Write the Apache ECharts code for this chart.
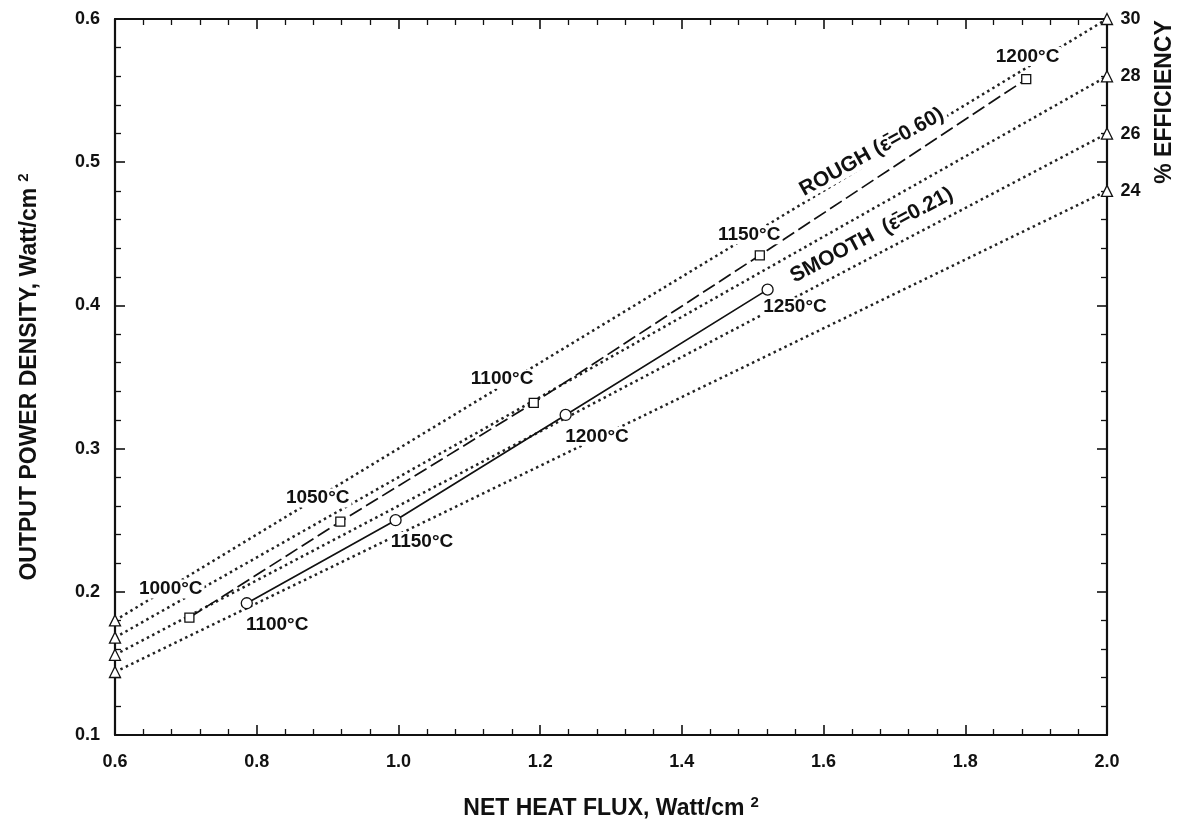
<!DOCTYPE html>
<html>
<head>
<meta charset="utf-8">
<script src="https://cdn.jsdelivr.net/npm/echarts@6/dist/echarts.min.js"></script>
<style>
html,body{margin:0;padding:0;background:#fff;}
#chart{width:1180px;height:826px;}
</style>
</head>
<body>
<div id="chart"></div>
<script>
// ---- data ----
const roughTemps = ['1000°C', '1050°C', '1100°C', '1150°C', '1200°C'];
const roughFlux  = [0.705, 0.918, 1.191, 1.510, 1.886];
const roughPower = [0.182, 0.249, 0.332, 0.435, 0.558];

const smoothTemps = ['1100°C', '1150°C', '1200°C', '1250°C'];
const smoothFlux  = [0.786, 0.996, 1.236, 1.521];
const smoothPower = [0.192, 0.250, 0.3235, 0.411];

const effPercent = ['30', '28', '26', '24'];
const effFluxEnds = [0.6, 2.0];
const effAtLeft  = [0.180, 0.168, 0.156, 0.144];
const effAtRight = [0.600, 0.560, 0.520, 0.480];

const curveNames = ['ROUGH (ε̄=0.60)', 'SMOOTH  (ε̄=0.21)'];
const curveNameFlux  = [1.668, 1.668];
const curveNamePower = [0.507, 0.449];

// ---- label placement (styles, in pixels: label centre minus marker centre) ----
const roughLabelOffsets  = [[-18, -28], [-22, -23], [-31, -23], [-10, -20], [2, -22]];
const smoothLabelOffsets = [[31, 22], [27, 22], [32, 22], [28, 18]];
const curveNameRotate = [29, 28];

const FONT = '"Liberation Sans", Arial, Helvetica, sans-serif';
const INK = '#111';
const MARK = 9;

const tempLabel = (off, size) => ({
  show: true, position: [size / 2 + off[0], size / 2 + off[1]],
  align: 'center', verticalAlign: 'middle',
  fontFamily: FONT, fontSize: 19, fontWeight: 'bold', color: INK,
  backgroundColor: '#fff', padding: [0, 2]
});

const series = [];

// efficiency lines (dotted)
effPercent.forEach((p, i) => {
  series.push({
    type: 'line', name: 'eff' + p, z: 2, clip: false,
    data: [[effFluxEnds[0], effAtLeft[i]], [effFluxEnds[1], effAtRight[i]]],
    symbol: 'triangle', symbolSize: 11,
    itemStyle: { color: '#fff', borderColor: INK, borderWidth: 1.3 },
    lineStyle: { color: '#222', width: 2.5, type: [2.5, 3.5] },
    label: { show: false },
    emphasis: { disabled: true },
    silent: true, animation: false
  });
});

// right side % efficiency labels
series.push({
  type: 'scatter', z: 6, clip: false, symbolSize: 1,
  itemStyle: { color: '#fff', opacity: 1 },
  data: effPercent.map((p, i) => ({ value: [effFluxEnds[1], effAtRight[i]], name: p })),
  label: {
    show: true, position: 'right', distance: 13, formatter: '{b}', opacity: 1,
    fontFamily: FONT, fontSize: 18, fontWeight: 'bold', color: INK
  },
  emphasis: { disabled: true },
  silent: true, animation: false
});

// rough curve
series.push({
  type: 'line', name: 'rough', z: 4,
  data: roughFlux.map((x, i) => ({
    value: [x, roughPower[i]], name: roughTemps[i],
    label: tempLabel(roughLabelOffsets[i], MARK)
  })),
  symbol: 'rect', symbolSize: MARK, showAllSymbol: true,
  itemStyle: { color: '#fff', borderColor: INK, borderWidth: 1.3 },
  lineStyle: { color: INK, width: 1.7, type: [14, 5] },
  label: { show: true, formatter: '{b}' },
  emphasis: { disabled: true }, silent: true, animation: false
});

// smooth curve
series.push({
  type: 'line', name: 'smooth', z: 4,
  data: smoothFlux.map((x, i) => ({
    value: [x, smoothPower[i]], name: smoothTemps[i],
    label: tempLabel(smoothLabelOffsets[i], MARK + 2)
  })),
  symbol: 'circle', symbolSize: MARK + 2, showAllSymbol: true,
  itemStyle: { color: '#fff', borderColor: INK, borderWidth: 1.3 },
  lineStyle: { color: INK, width: 1.7, type: 'solid' },
  label: { show: true, formatter: '{b}' },
  emphasis: { disabled: true }, silent: true, animation: false
});

// curve names
series.push({
  type: 'scatter', z: 5, symbolSize: 1,
  itemStyle: { color: '#fff', opacity: 1 },
  data: curveNames.map((n, i) => ({
    value: [curveNameFlux[i], curveNamePower[i]], name: n,
    label: { rotate: curveNameRotate[i] }
  })),
  label: {
    show: true, position: 'inside', formatter: '{b}', opacity: 1,
    fontFamily: FONT, fontSize: 21, fontWeight: 'bold', color: INK,
    textBorderWidth: 0,
    backgroundColor: '#fff', padding: [0, 3]
  },
  emphasis: { disabled: true },
  silent: true, animation: false
});

const axisCommon = {
  type: 'value',
  axisLine: { show: true, onZero: false, lineStyle: { color: INK, width: 2.2 } },
  axisTick: { show: true, inside: true, length: 10, lineStyle: { color: INK, width: 1.6 } },
  minorTick: { show: true, splitNumber: 5, length: 6, lineStyle: { color: INK, width: 1.3 } },
  splitLine: { show: false },
  minorSplitLine: { show: false }
};

const supRich = { sup: { fontFamily: FONT, fontSize: 15, fontWeight: 'bold', color: INK, verticalAlign: 'top', padding: [0, 0, 12, 6] } };

const option = {
  backgroundColor: '#fff',
  animation: false,
  grid: { left: 115, right: 73, top: 19, bottom: 91, containLabel: false },
  xAxis: [
    Object.assign({}, axisCommon, {
      position: 'bottom', min: 0.6, max: 2.0, interval: 0.2,
      name: 'NET HEAT FLUX, Watt/cm{sup|2}', nameLocation: 'middle', nameGap: 60,
      nameTextStyle: { fontFamily: FONT, fontSize: 23, fontWeight: 'bold', color: INK, rich: supRich },
      axisLabel: {
        margin: 18, fontFamily: FONT, fontSize: 18, fontWeight: 'bold', color: INK,
        formatter: (v) => v.toFixed(1)
      }
    }),
    Object.assign({}, axisCommon, {
      position: 'top', min: 0.6, max: 2.0, interval: 0.2,
      axisLabel: { show: false }
    })
  ],
  yAxis: [
    Object.assign({}, axisCommon, {
      position: 'left', min: 0.1, max: 0.6, interval: 0.1,
      name: 'OUTPUT POWER DENSITY, Watt/cm{sup|2}', nameLocation: 'middle', nameGap: 72,
      nameRotate: 90,
      nameTextStyle: { fontFamily: FONT, fontSize: 23, fontWeight: 'bold', color: INK, rich: supRich },
      axisLabel: {
        margin: 15, fontFamily: FONT, fontSize: 18, fontWeight: 'bold', color: INK,
        formatter: (v) => v.toFixed(1)
      }
    }),
    Object.assign({}, axisCommon, {
      position: 'right', min: 0.1, max: 0.6, interval: 0.1,
      axisLabel: { show: false }
    })
  ],
  graphic: [{
    type: 'text', x: 1165, y: 102, rotation: Math.PI / 2,
    style: {
      text: '% EFFICIENCY', fontFamily: FONT, fontSize: 23, fontWeight: 'bold',
      fill: INK, align: 'center', verticalAlign: 'middle'
    },
    silent: true
  }],
  series: series
};

const chart = echarts.init(document.getElementById('chart'), null, { renderer: 'canvas' });
chart.setOption(option);
</script>
</body>
</html>
